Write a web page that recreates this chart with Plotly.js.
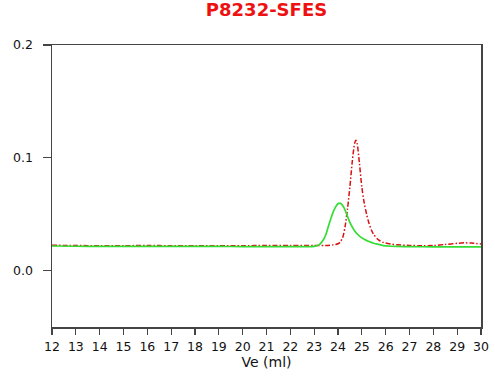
<!DOCTYPE html>
<html>
<head>
<meta charset="utf-8">
<script src="https://cdn.plot.ly/plotly-3.0.1.min.js"></script>
<style>html,body{margin:0;padding:0;background:#fff;}#chart{width:495px;height:378px;}</style>
</head>
<body>
<div id="chart"></div>
<script>
// Green trace (Ve in ml, absorbance)
const greenVe = [12, 13, 14, 15, 16, 17, 18, 19, 20, 21, 22, 22.5, 23, 23.2, 23.3, 23.4, 23.5, 23.6, 23.7, 23.8, 23.9, 24.0, 24.06, 24.15, 24.25, 24.35, 24.45, 24.55, 24.7, 24.9, 25.1, 25.3, 25.5, 25.7, 25.9, 26.2, 26.5, 27, 28, 29, 30];
const greenAbs = [0.0218, 0.0216, 0.0215, 0.0215, 0.0214, 0.0214, 0.0214, 0.0214, 0.0213, 0.0213, 0.0213, 0.0213, 0.0215, 0.0228, 0.0248, 0.0278, 0.0325, 0.0395, 0.046, 0.052, 0.0565, 0.0593, 0.0598, 0.0590, 0.0558, 0.0508, 0.0452, 0.0405, 0.0352, 0.0306, 0.0278, 0.0258, 0.0243, 0.0232, 0.0222, 0.0216, 0.0214, 0.0212, 0.0211, 0.0211, 0.0210];

// Red dash-dot trace
const redVe = [12, 13, 14, 15, 16, 17, 18, 19, 20, 21, 22, 23, 23.5, 23.8, 24.0, 24.1, 24.2, 24.3, 24.4, 24.5, 24.6, 24.7, 24.75, 24.8, 24.9, 25.0, 25.1, 25.2, 25.3, 25.4, 25.5, 25.7, 25.9, 26.2, 26.5, 27, 27.5, 28, 28.5, 29, 29.3, 29.6, 30];
const redAbs = [0.0225, 0.0222, 0.0221, 0.0221, 0.0222, 0.0221, 0.0221, 0.0221, 0.0221, 0.0222, 0.0222, 0.0222, 0.0223, 0.0228, 0.0238, 0.0255, 0.0295, 0.0395, 0.0550, 0.0745, 0.0970, 0.1130, 0.1155, 0.1128, 0.0950, 0.0740, 0.0600, 0.0500, 0.0420, 0.0360, 0.0320, 0.0272, 0.0250, 0.0236, 0.0229, 0.0223, 0.0221, 0.0222, 0.0232, 0.0242, 0.0246, 0.0244, 0.0236];

const xTicks = [12, 13, 14, 15, 16, 17, 18, 19, 20, 21, 22, 23, 24, 25, 26, 27, 28, 29, 30];
const yTicks = [0.0, 0.1, 0.2];
const yTickLabels = ["0.0", "0.1", "0.2"];

const traces = [
  {x: redVe, y: redAbs, type: 'scatter', mode: 'lines',
   line: {color: '#d81010', width: 1.5, dash: '5px,2px,1.5px,2px', shape: 'spline', smoothing: 0.8},
   hoverinfo: 'skip'},
  {x: greenVe, y: greenAbs, type: 'scatter', mode: 'lines',
   line: {color: '#33dd33', width: 1.7, shape: 'spline', smoothing: 0.8},
   hoverinfo: 'skip'}
];

const layout = {
  width: 495, height: 378,
  margin: {l: 52, r: 14, t: 45, b: 51, pad: 0},
  paper_bgcolor: '#ffffff', plot_bgcolor: '#ffffff',
  showlegend: false,
  font: {family: 'DejaVu Sans, sans-serif', color: '#111111', size: 12.5},
  title: {text: '<b>P8232-SFES</b>', font: {family: 'DejaVu Sans, sans-serif', size: 18, color: '#ee1111'},
          x: 0.5, xanchor: 'center', xref: 'paper', y: 1 - 10/378, yanchor: 'middle', yref: 'container'},
  xaxis: {range: [12, 30], tickmode: 'array', tickvals: xTicks, ticktext: xTicks.map(String),
          ticks: 'outside', ticklen: 6, tickwidth: 1.3, tickcolor: '#444',
          showline: true, linecolor: '#444', linewidth: 1.5, mirror: true,
          showgrid: false, zeroline: false, ticklabelstandoff: 1,
          title: {text: 'Ve (ml)', font: {size: 14}, standoff: 4}},
  yaxis: {range: [-0.05, 0.2], tickmode: 'array', tickvals: yTicks, ticktext: yTickLabels,
          ticks: 'outside', ticklen: 8, tickwidth: 1.3, tickcolor: '#444',
          showline: true, linecolor: '#444', linewidth: 1.5, mirror: true,
          showgrid: false, zeroline: false, ticklabelstandoff: 7}
};

Plotly.newPlot('chart', traces, layout, {displayModeBar: false, staticPlot: true});
</script>
</body>
</html>
